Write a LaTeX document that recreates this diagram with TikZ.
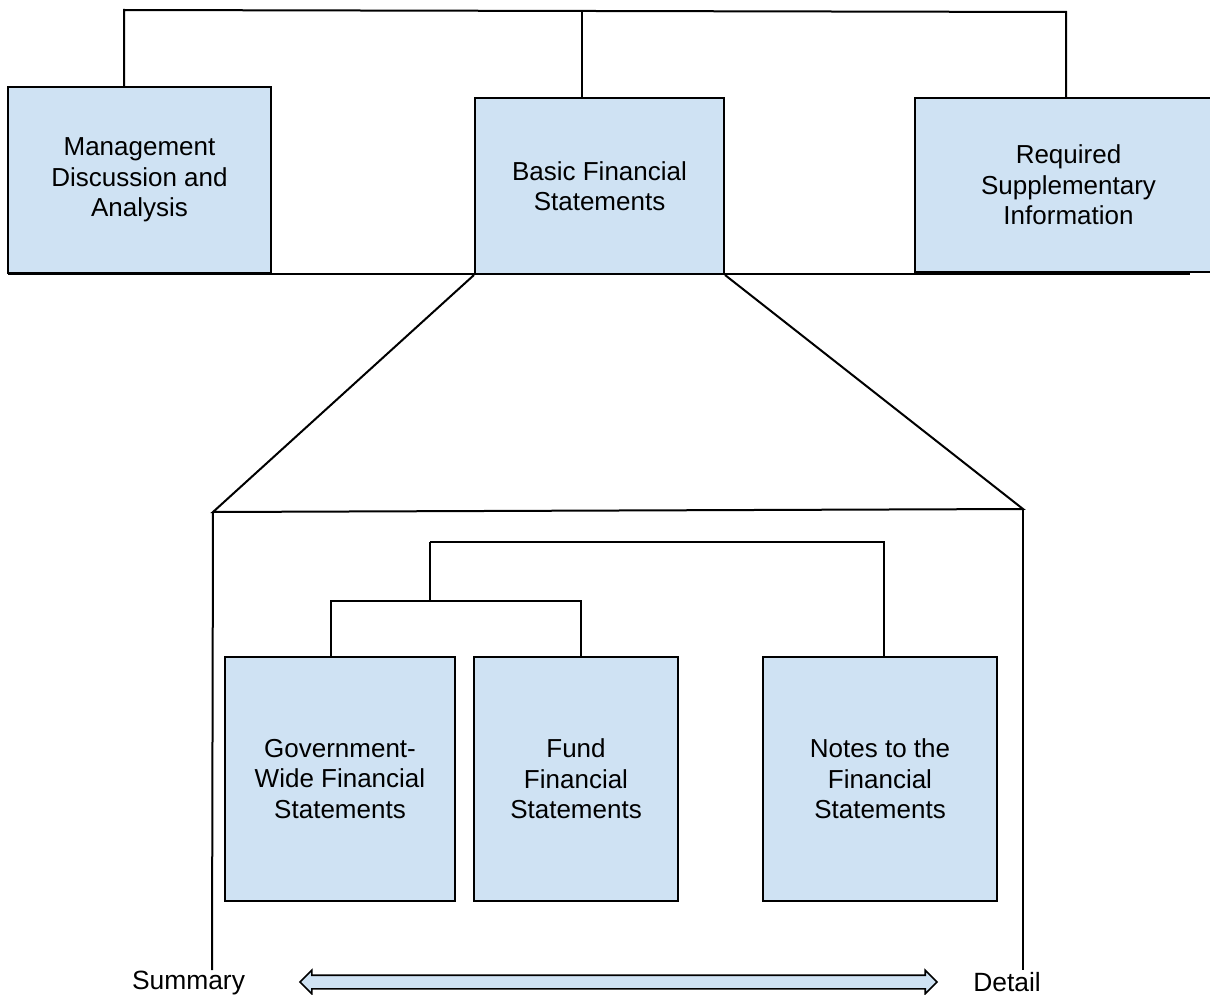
\documentclass[tikz,border=0pt]{standalone}
\usepackage{fontspec}
\setmainfont{Liberation Sans}
\usetikzlibrary{shapes.arrows}
\definecolor{boxblue}{HTML}{CFE2F3}

\begin{document}
\begin{tikzpicture}[x=0.5pt, y=-0.5pt, line width=1pt,
	main/.style = {draw, fill=boxblue, align=center, font=\fontsize{13}{15.2}\selectfont},
	lbl/.style = {anchor=base, font=\fontsize{13.2}{15.2}\selectfont}]
	\useasboundingbox (0,0) rectangle (1210,995);
	% top row
	\node[main, minimum width=131.5pt, minimum height=93pt] (mda) at (139.5,180) {Management\\Discussion and\\Analysis};
	\node[main, minimum width=124.5pt, minimum height=88pt] (bfs) at (599.5,186) {Basic Financial\\Statements};
	\node[main, minimum width=153.5pt, minimum height=87pt] (rsi) at (1068.5,185) {Required\\Supplementary\\Information};
	\coordinate (t1) at (124,10);
	\coordinate (t2) at (582,12);
	\coordinate (t3) at (1066,12);
	\draw (mda.north -| t1) -- (t1) -- (t3) -- (rsi.north -| t3);
	\draw (bfs.north -| t2) -- (t2);
	\coordinate (b1) at (8,274);
	\coordinate (b2) at (1190,274);
	\draw (b1) -- (b2);
	% funnel
	\coordinate (sl) at (213,512);
	\coordinate (dr) at (1023,509);
	\coordinate (slb) at (212,970);
	\coordinate (drb) at (1023,970);
	\draw (bfs.south west) -- (sl) -- (dr) -- (bfs.south east);
	\draw (sl) -- (slb);
	\draw (dr) -- (drb);
	% bottom row
	\node[main, minimum width=115pt, minimum height=122pt] (gwf) at (340,779) {Government-\\Wide Financial\\Statements};
	\node[main, minimum width=102pt, minimum height=122pt] (fund) at (576,779) {Fund\\Financial\\Statements};
	\node[main, minimum width=117pt, minimum height=122pt] (notes) at (880,779) {Notes to the\\Financial\\Statements};
	\coordinate (i1) at (430,542);
	\coordinate (i2) at (884,542);
	\coordinate (j1) at (331,601);
	\coordinate (j2) at (581,601);
	\draw (i1) -- (i2) -- (notes.north -| i2);
	\draw (gwf.north -| j1) -- (j1) -- (j2) -- (fund.north -| j2);
	\draw (i1) -- (i1 |- j1);
	% scale
	\node[lbl] (sum) at (188.5,989) {Summary};
	\node[lbl] (det) at (1007,991) {Detail};
	\node[draw, fill=boxblue, line width=0.8pt, double arrow, inner sep=3pt, double arrow head extend=2.5pt,
		minimum height=318.5pt] (range) at (618.5,982) {};
\end{tikzpicture}
\end{document}
